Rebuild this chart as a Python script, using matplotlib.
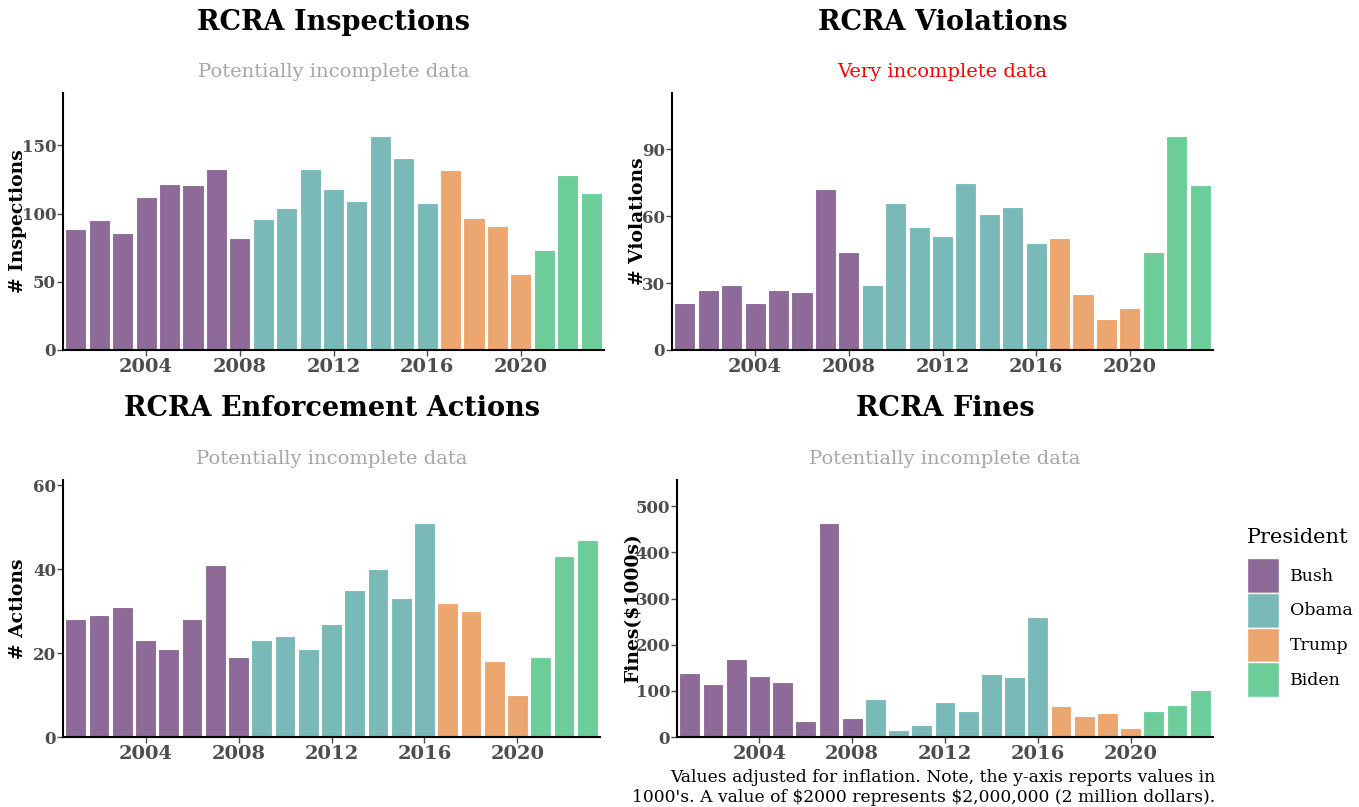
import matplotlib
matplotlib.use("Agg")
import matplotlib.pyplot as plt
from matplotlib.patches import Patch

years = list(range(2001, 2024))
presidents = ["Bush"] * 8 + ["Obama"] * 8 + ["Trump"] * 4 + ["Biden"] * 3
colors = {"Bush": "#8D6A97", "Obama": "#79BAB9", "Trump": "#ECA66F", "Biden": "#6DCD9A"}

inspections = [89, 95, 86, 112, 122, 121, 133, 82, 96, 104, 133, 118, 109, 157, 141, 108, 132, 97, 91, 56, 73, 128, 115]
violations = [21, 27, 29, 21, 27, 26, 72, 44, 29, 66, 55, 51, 75, 61, 64, 48, 50, 25, 14, 19, 44, 96, 74]
actions = [28, 29, 31, 23, 21, 28, 41, 19, 23, 24, 21, 27, 35, 40, 33, 51, 32, 30, 18, 10, 19, 43, 47]
fines = [139, 114, 170, 132, 120, 35, 464, 42, 82, 16, 27, 76, 57, 137, 131, 260, 68, 45, 51, 19, 57, 70, 101]

plt.rcParams["font.family"] = ["DejaVu Serif"]

W, H = 1359, 807
fig = plt.figure(figsize=(W / 100, H / 100), dpi=100)


def px_axes(l, t, r, b):
    return fig.add_axes([l / W, 1 - b / H, (r - l) / W, (b - t) / H])


panels = [
    (inspections, "RCRA Inspections", "Potentially incomplete data", "#a6a6a6", "# Inspections", [0, 50, 100, 150], (63, 93, 604, 350), 27),
    (violations, "RCRA Violations", "Very incomplete data", "#ff0000", "# Violations", [0, 30, 60, 90], (672, 93, 1213, 350), 647),
    (actions, "RCRA Enforcement Actions", "Potentially incomplete data", "#a6a6a6", "# Actions", [0, 20, 40, 60], (63, 480, 600, 737), 27),
    (fines, "RCRA Fines", "Potentially incomplete data", "#a6a6a6", "Fines(\\$1000s)", [0, 100, 200, 300, 400, 500], (677, 480, 1213, 737), 642),
]

for vals, title, sub, subc, ylab, yt, (l, t, r, b), labx in panels:
    ax = px_axes(l, t, r, b)
    ax.bar(years, vals, width=0.9, color=[colors[p] for p in presidents],
           edgecolor="white", linewidth=0.8)
    ax.set_xlim(2000.45, 2023.55)
    ax.set_ylim(0, max(vals) * 1.2)
    ax.set_yticks(yt)
    ax.set_xticks([2004, 2008, 2012, 2016, 2020])
    for s in ["top", "right"]:
        ax.spines[s].set_visible(False)
    for s in ["left", "bottom"]:
        ax.spines[s].set_linewidth(1.5)
        ax.spines[s].set_color("black")
    ax.tick_params(axis="x", labelsize=14, colors="#4d4d4d", length=4, width=1, pad=2)
    ax.tick_params(axis="y", labelsize=12, colors="#4d4d4d", length=4, width=1, pad=1)
    for lab in ax.get_xticklabels() + ax.get_yticklabels():
        lab.set_fontweight("bold")
    ax.set_ylabel(ylab, fontsize=13.5, fontweight="bold", color="black")
    ax.yaxis.set_label_coords((labx - l) / (r - l), 0.5)
    cx = (l + r) / 2 / W
    fig.text(cx, 1 - (t - 71) / H, title, ha="center", va="center", fontsize=19.5, fontweight="bold")
    fig.text(cx, 1 - (t - 21) / H, sub, ha="center", va="center", fontsize=14, color=subc)

handles = [Patch(facecolor=colors[k], edgecolor="white", label=k) for k in ["Bush", "Obama", "Trump", "Biden"]]
leg = fig.legend(handles=handles, title="President", loc="upper left",
                 bbox_to_anchor=(1247 / W, 1 - 528 / H), frameon=False,
                 fontsize=12.5, title_fontsize=15, handlelength=1.85, handleheight=2.7,
                 handletextpad=0.6, labelspacing=0.0, borderaxespad=0, borderpad=0)
leg._legend_box.align = "left"
leg._legend_box.sep = 8
leg._legend_handle_box.sep = 0

fig.text(1215 / W, 1 - 778 / H, "Values adjusted for inflation. Note, the y-axis reports values in",
         ha="right", va="center", fontsize=12.3)
fig.text(1215 / W, 1 - 797 / H, "1000's. A value of \\$2000 represents \\$2,000,000 (2 million dollars).",
         ha="right", va="center", fontsize=12.3)

fig.savefig("out.png", dpi=100)
